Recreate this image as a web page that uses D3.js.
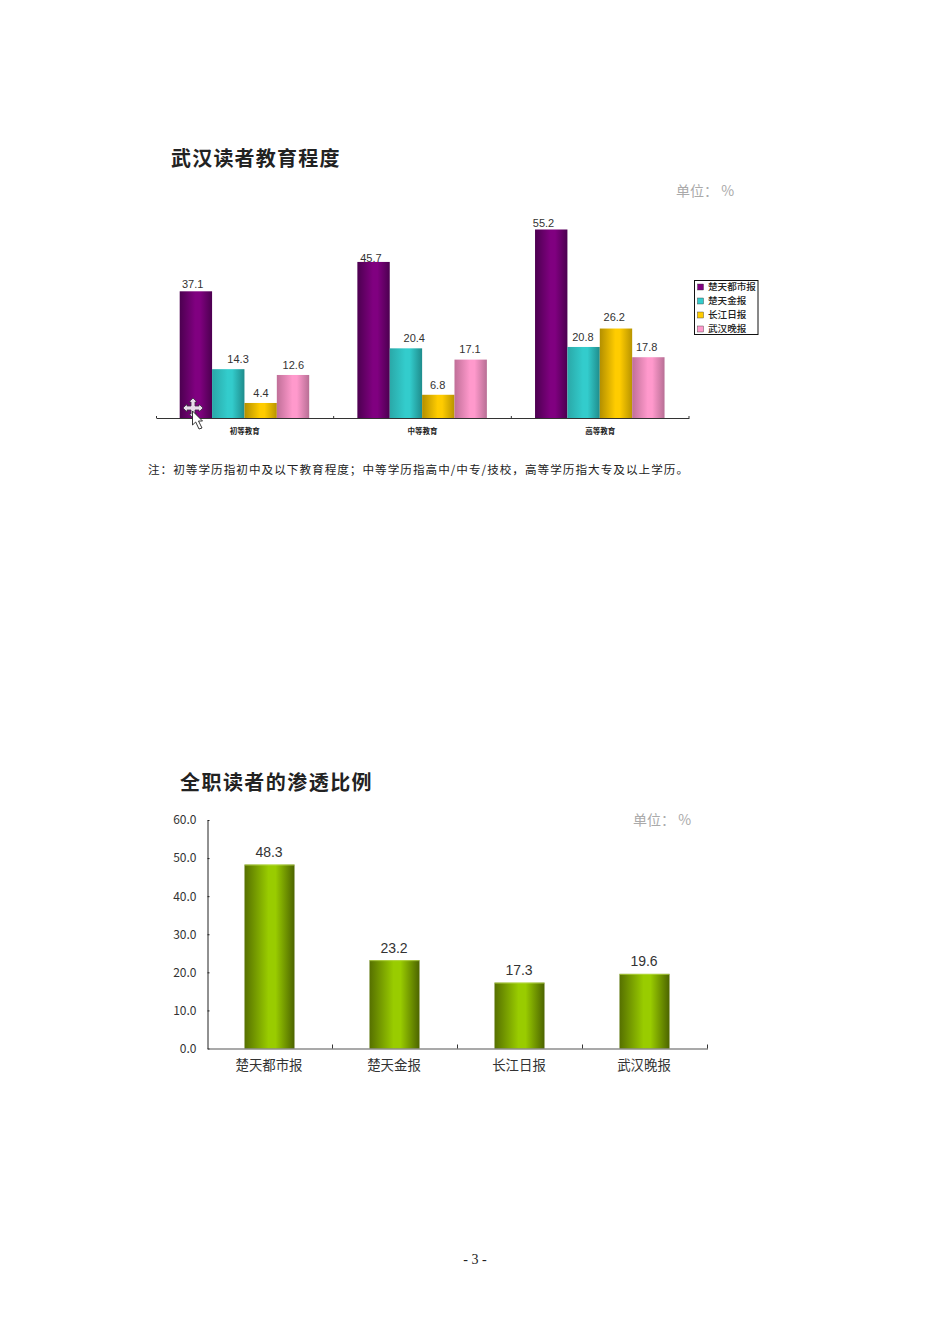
<!DOCTYPE html>
<html>
<head>
<meta charset="utf-8">
<script src="https://cdnjs.cloudflare.com/ajax/libs/d3/7.8.5/d3.min.js"></script>
<style>
  html, body { margin: 0; padding: 0; background: #fff; }
  svg { display: block; }
  text { font-family: "Noto Sans CJK SC", sans-serif; }
  .num { font-family: "Liberation Sans", Arial, sans-serif; }
</style>
</head>
<body>
<div id="chart"></div>
<script>
// top chart
let eduLevels = ['初等教育', '中等教育', '高等教育'];
let papers = ['楚天都市报', '楚天金报', '长江日报', '武汉晚报'];
let chutianDushi = [37.1, 45.7, 55.2];
let chutianJin = [14.3, 20.4, 20.8];
let changjiang = [4.4, 6.8, 26.2];
let wuhanWanbao = [12.6, 17.1, 17.8];
let eduSeries = [chutianDushi, chutianJin, changjiang, wuhanWanbao];

// bottom chart
let fullTimeValues = [48.3, 23.2, 17.3, 19.6];
let fullTimeTicks = [0, 10, 20, 30, 40, 50, 60];

let svg = d3.select('#chart').append('svg')
  .attr('width', 950)
  .attr('height', 1344)
  .style('background', '#fff');

let defs = svg.append('defs');
function barGradient(id, edgeL, mid, edgeR) {
  let g = defs.append('linearGradient').attr('id', id);
  g.append('stop').attr('offset', '0%').attr('stop-color', edgeL);
  g.append('stop').attr('offset', '48%').attr('stop-color', mid);
  g.append('stop').attr('offset', '62%').attr('stop-color', mid);
  g.append('stop').attr('offset', '100%').attr('stop-color', edgeR);
}
barGradient('g0', '#4c0050', '#800080', '#4c0050');
barGradient('g1', '#2aa8a8', '#33cccc', '#1f8c8c');
barGradient('g2', '#b38f00', '#ffcc00', '#b89400');
barGradient('g3', '#c06f98', '#ff99cc', '#b86f95');
barGradient('g4', '#567000', '#99cc00', '#4c6400');

let legendColors = ['#800080', '#33cccc', '#ffcc00', '#ff99cc'];

function title(txt, x, y, spacing) {
  svg.append('text').attr('x', x).attr('y', y)
    .attr('font-size', 20).attr('font-weight', 700).attr('fill', '#222')
    .attr('letter-spacing', spacing).attr('dominant-baseline', 'central').text(txt);
}
function unit(x, y) {
  svg.append('text').attr('x', x).attr('y', y)
    .attr('font-size', 14).attr('fill', '#aaa')
    .attr('dominant-baseline', 'central').text('单位\uFF1A %');
}

// ---- chart 1 ----
title('武汉读者教育程度', 171, 157, 1.2);
unit(676, 190);

let base1 = 418;
let x0 = d3.scaleBand().domain(eduLevels).range([156, 689]);
let x1 = d3.scaleBand().domain(papers).range([24, 153.5]);
let y1 = d3.scaleLinear().domain([0, 60]).range([base1, base1 - 204.9]);

// the original's value labels are not centred on their bars, nudges per series / group
let labelDx = [[-3.5, -3, -8], [9.5, 8, -1], [0, -1, -2], [0, -1, -2]];
let labelGap = [[7, 3.5, 6.5], [10, 10, 10], [10, 10, 11.5], [10, 10.5, 10]];

// labels first so the bars sit over them (45.7 is cut by its bar in the original)
eduSeries.forEach((vals, s) => {
  svg.append('g').selectAll('text')
    .data(vals)
    .enter()
    .append('text')
    .attr('class', 'num')
    .attr('font-size', 11)
    .attr('fill', '#333')
    .attr('text-anchor', 'middle')
    .attr('dominant-baseline', 'central')
    .attr('x', (d, i) => x0(eduLevels[i]) + x1(papers[s]) + x1.bandwidth() / 2 + labelDx[s][i])
    .attr('y', (d, i) => y1(d) - labelGap[s][i])
    .text(d => d);

  svg.append('g').selectAll('rect')
    .data(vals)
    .enter()
    .append('rect')
    .style('fill', 'url(#g' + s + ')')
    .attr('x', (d, i) => x0(eduLevels[i]) + x1(papers[s]) - 0.3)
    .attr('width', x1.bandwidth())
    .attr('y', d => y1(d))
    .attr('height', d => base1 - y1(d));
});

let axis1 = svg.append('g')
  .attr('transform', 'translate(0,' + base1 + ')')
  .call(d3.axisBottom(x0).tickSize(0).tickPadding(11));
axis1.select('.domain').attr('stroke', '#333').attr('stroke-width', 1.2);
axis1.selectAll('text')
  .attr('font-family', '"Noto Sans CJK SC", sans-serif')
  .attr('font-size', 7.5)
  .attr('font-weight', 700)
  .attr('fill', '#222');
eduLevels.forEach(c => {
  axis1.append('line')
    .attr('x1', x0(c) + x0.step()).attr('x2', x0(c) + x0.step())
    .attr('y1', -2).attr('y2', 0).attr('stroke', '#333');
});
axis1.append('line').attr('x1', 156.5).attr('x2', 156.5).attr('y1', -2).attr('y2', 0).attr('stroke', '#333');

// legend
let legend = svg.append('g').attr('transform', 'translate(694.5,280.5)');
legend.append('rect').attr('width', 63.5).attr('height', 54)
  .attr('fill', '#fff').attr('stroke', '#111');
papers.forEach((p, i) => {
  legend.append('rect')
    .attr('x', 3).attr('y', 3.5 + i * 14)
    .attr('width', 6).attr('height', 6)
    .attr('fill', legendColors[i])
    .attr('stroke', '#333').attr('stroke-width', 0.4);
  legend.append('text')
    .attr('x', 13.5).attr('y', 5.8 + i * 14)
    .attr('font-size', 9.6).attr('fill', '#222').attr('font-weight', 500)
    .attr('dominant-baseline', 'central').text(p);
});

// stray mouse cursor left in the screenshot
let cursor = svg.append('g').attr('transform', 'translate(193,408)');
cursor.append('path')
  .attr('d', 'M0,-10 L4,-6 L2,-6 L2,-2 L6,-2 L6,-4 L10,0 L6,4 L6,2 L2,2 L2,6 L4,6 L0,10 L-4,6 L-2,6 L-2,2 L-6,2 L-6,4 L-10,0 L-6,-4 L-6,-2 L-2,-2 L-2,-6 L-4,-6 Z')
  .attr('fill', '#e8dcea').attr('stroke', '#3a2a40').attr('stroke-width', 0.8);
cursor.append('path')
  .attr('d', 'M-0.5,3 L-0.5,17 L2.7,14 L6,21 L9,20 L5.5,13 L9.5,13 Z')
  .attr('fill', '#fff').attr('stroke', '#222').attr('stroke-width', 0.9);

svg.append('text').attr('x', 148).attr('y', 468.5)
  .attr('font-size', 11.6).attr('fill', '#222')
  .attr('dominant-baseline', 'central')
  .attr('textLength', 540)
  .text('注\uFF1A初等学历指初中及以下教育程度\uFF1B中等学历指高中/中专/技校\uFF0C高等学历指大专及以上学历。');

// ---- chart 2 ----
title('全职读者的渗透比例', 180, 781, 1.45);
unit(633, 819);

let base2 = 1048.5;
let xS = d3.scaleBand().domain(papers).range([207.5, 707.5]).paddingInner(0.6).paddingOuter(0.3);
let yS = d3.scaleLinear().domain([0, 60]).range([base2, 820]);

svg.append('g').selectAll('rect')
  .data(fullTimeValues)
  .enter()
  .append('rect')
  .style('fill', 'url(#g4)')
  .attr('x', (d, i) => xS(papers[i]) - 0.5)
  .attr('width', xS.bandwidth())
  .attr('y', d => yS(d))
  .attr('height', d => base2 - yS(d));

// thin light edge along the top of each bar
svg.append('g').selectAll('rect')
  .data(fullTimeValues)
  .enter()
  .append('rect')
  .style('fill', '#bcdc50')
  .style('opacity', 0.7)
  .attr('x', (d, i) => xS(papers[i]) - 0.5)
  .attr('width', xS.bandwidth())
  .attr('y', d => yS(d))
  .attr('height', 1);

svg.append('g').selectAll('text')
  .data(fullTimeValues)
  .enter()
  .append('text')
  .attr('class', 'num')
  .attr('font-size', 14)
  .attr('fill', '#333')
  .attr('text-anchor', 'middle')
  .attr('dominant-baseline', 'central')
  .attr('x', (d, i) => xS(papers[i]) + xS.bandwidth() / 2 - 1)
  .attr('y', d => yS(d) - 12.5)
  .text(d => d);

let yAxis = svg.append('g')
  .attr('transform', 'translate(207.5,0)')
  .call(d3.axisLeft(yS).tickValues(fullTimeTicks).tickFormat(d3.format('.1f')).tickSizeInner(-2).tickSizeOuter(0).tickPadding(11));
yAxis.select('.domain').attr('stroke', '#222');
yAxis.selectAll('line').attr('stroke', '#222');
yAxis.selectAll('text')
  .attr('font-family', '"Liberation Sans", Arial, sans-serif')
  .attr('font-size', 12)
  .attr('fill', '#333');

let xAxis = svg.append('g')
  .attr('transform', 'translate(-1,' + base2 + ')')
  .call(d3.axisBottom(xS).tickSize(0).tickPadding(12));
xAxis.select('.domain').attr('transform', 'translate(1,0)').attr('stroke', '#555').attr('stroke-width', 1.2);
xAxis.selectAll('text')
  .attr('font-family', '"Noto Sans CJK SC", sans-serif')
  .attr('font-size', 13.4)
  .attr('fill', '#333');
papers.forEach(p => {
  let tx = xS(p) - xS.step() * 0.3 + xS.step() + 1;
  xAxis.append('line').attr('x1', tx).attr('x2', tx)
    .attr('y1', -4).attr('y2', 0).attr('stroke', '#333');
});

// page number
svg.append('text').attr('x', 475).attr('y', 1259)
  .style('font-family', '"Liberation Serif", serif')
  .attr('font-size', 14).attr('fill', '#222')
  .attr('text-anchor', 'middle').attr('dominant-baseline', 'central')
  .text('- 3 -');
</script>
</body>
</html>
